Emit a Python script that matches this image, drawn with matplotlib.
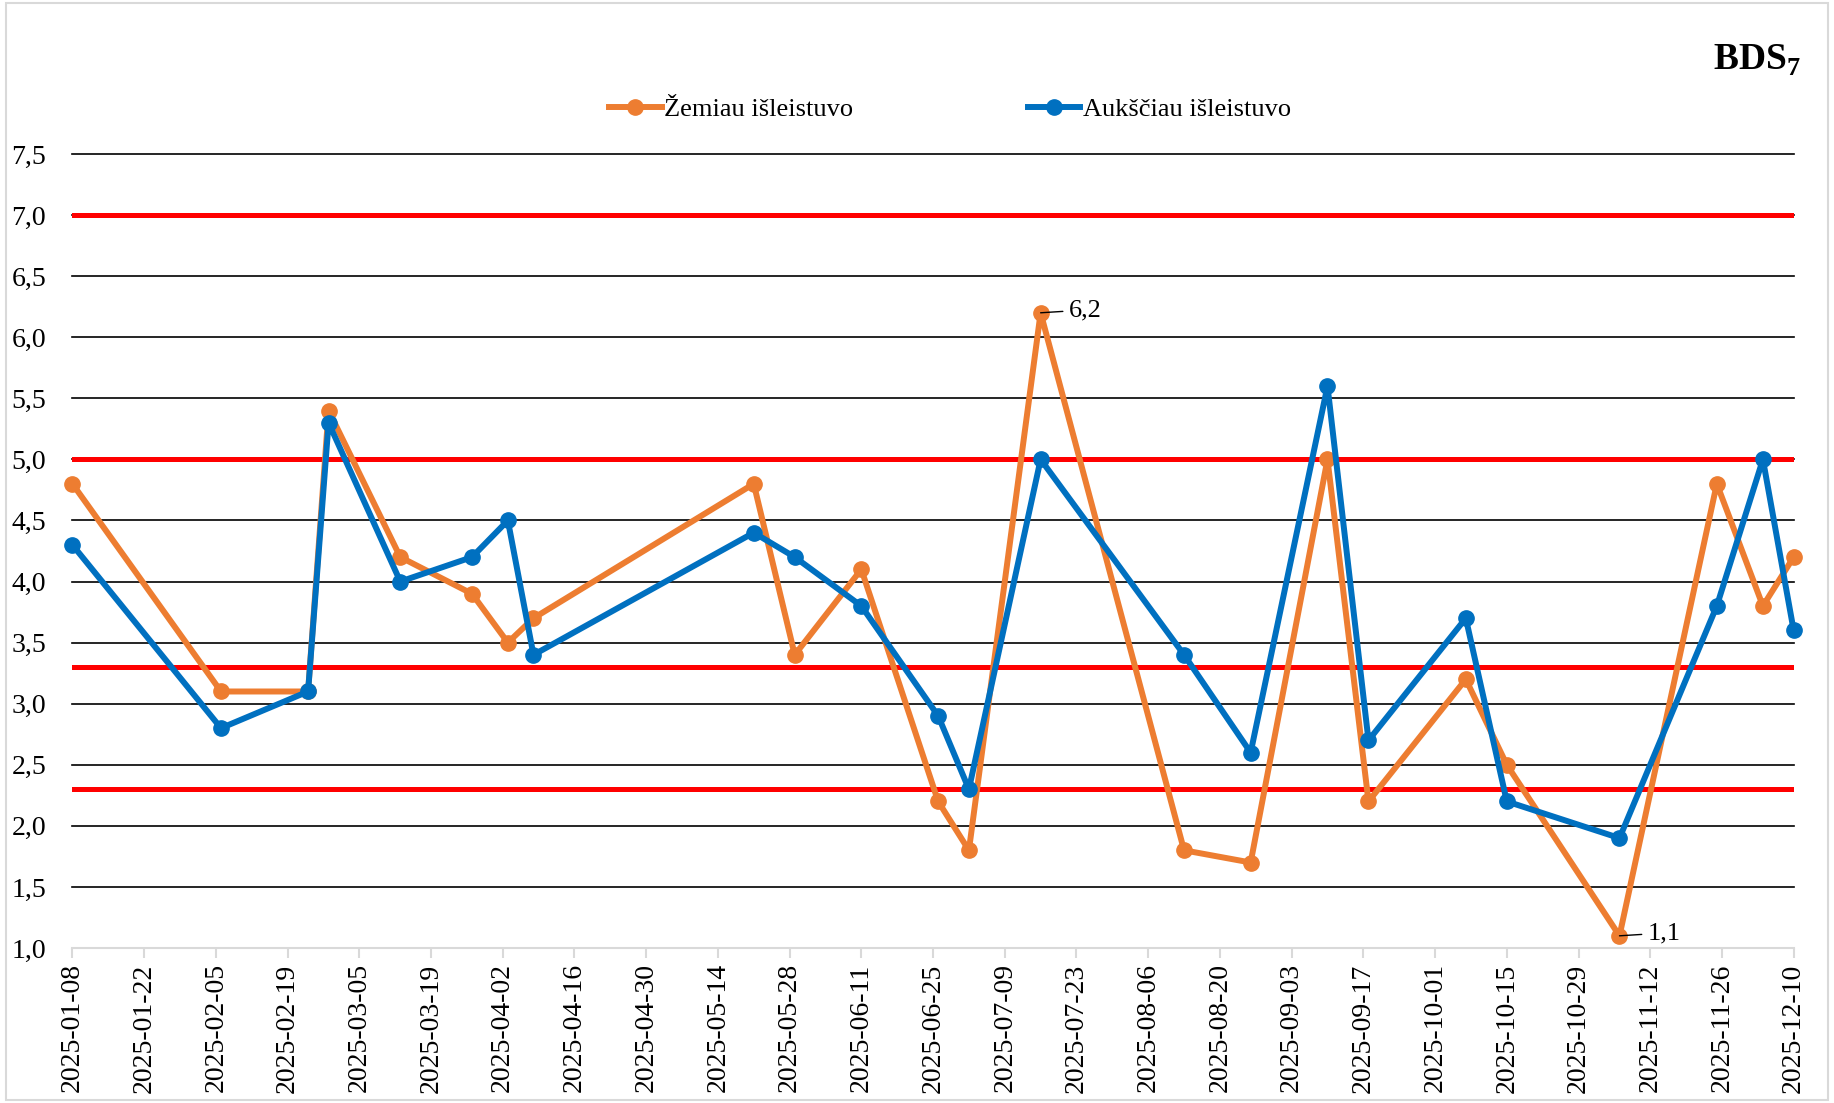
import numpy as np
import pandas as pd
import matplotlib
matplotlib.use("Agg")
import matplotlib.pyplot as plt
from matplotlib.patches import Rectangle

plt.rcParams['font.family'] = ['Liberation Serif', 'DejaVu Serif']
plt.rcParams['mathtext.fontset'] = 'custom'
plt.rcParams['mathtext.rm'] = 'Liberation Serif'
plt.rcParams['mathtext.bf'] = 'Liberation Serif:bold'

# datos
dates = pd.to_datetime([
    "2025-01-08", "2025-02-06", "2025-02-23", "2025-02-27", "2025-03-13",
    "2025-03-27", "2025-04-03", "2025-04-08", "2025-05-21", "2025-05-29",
    "2025-06-11", "2025-06-26", "2025-07-02", "2025-07-16", "2025-08-13",
    "2025-08-26", "2025-09-10", "2025-09-18", "2025-10-07", "2025-10-15",
    "2025-11-06", "2025-11-25", "2025-12-04", "2025-12-10",
])
zemiau = [4.8, 3.1, 3.1, 5.4, 4.2, 3.9, 3.5, 3.7, 4.8, 3.4, 4.1, 2.2,
          1.8, 6.2, 1.8, 1.7, 5.0, 2.2, 3.2, 2.5, 1.1, 4.8, 3.8, 4.2]
aukstiau = [4.3, 2.8, 3.1, 5.3, 4.0, 4.2, 4.5, 3.4, 4.4, 4.2, 3.8, 2.9,
            2.3, 5.0, 3.4, 2.6, 5.6, 2.7, 3.7, 2.2, 1.9, 3.8, 5.0, 3.6]
ribos = [7.0, 5.0, 3.3, 2.3]
tick_dates = pd.date_range("2025-01-08", "2025-12-10", freq="14D")
y_ticks = np.arange(1.0, 7.51, 0.5)

ORANGE = "#ED7D31"
BLUE = "#0070C0"

fig = plt.figure(figsize=(18.34, 11.03), dpi=100)
ax = fig.add_axes([0.0395, 0.1405, 0.9385, 0.7199])

for y in y_ticks[1:]:
    ax.axhline(y, color="black", lw=1.2, zorder=1, clip_on=False)
for r in ribos:
    ax.axhline(r, color="#FF0000", lw=3.6, zorder=2)

ax.plot(dates, zemiau, color=ORANGE, lw=4.3, marker="o", ms=11,
        label="Žemiau išleistuvo", zorder=3, clip_on=False)
ax.plot(dates, aukstiau, color=BLUE, lw=4.3, marker="o", ms=11,
        label="Aukščiau išleistuvo", zorder=4, clip_on=False)

# anotacijos
for d, v in [(dates[13], zemiau[13]), (dates[20], zemiau[20])]:
    ax.annotate(f"{v:.1f}".replace(".", ","), xy=(d, v), xytext=(20, 2),
                textcoords="offset points", fontsize=19, va="center",
                arrowprops=dict(arrowstyle="-", color="black", lw=1,
                                shrinkA=2, shrinkB=0))

ax.set_xlim(tick_dates[0], tick_dates[-1])
ax.set_ylim(1.0, 7.5)
ax.set_xticks(tick_dates)
ax.set_xticklabels([d.strftime("%Y-%m-%d") for d in tick_dates],
                   rotation=90, fontsize=20)
ax.set_yticks(y_ticks)
ax.set_yticklabels([f"{v:.1f}".replace(".", ",") for v in y_ticks], fontsize=20)
ax.tick_params(axis="y", length=0, pad=19)
ax.tick_params(axis="x", length=7, color="#D9D9D9", width=1.5, pad=4)
for s in ["top", "right", "left"]:
    ax.spines[s].set_visible(False)
ax.spines["bottom"].set_color("#D9D9D9")
ax.spines["bottom"].set_linewidth(1.5)

fig.legend(loc="center", bbox_to_anchor=(0.518, 0.901), ncol=2, frameon=False,
           fontsize=19, columnspacing=6.6, handlelength=2.0, handletextpad=0.1)

fig.text(0.982, 0.945, r"$\mathbf{BDS}_\mathbf{7}$", ha="right", va="center",
         fontsize=27)

fig.patches.append(Rectangle((0.003, 0.003), 0.994, 0.994, transform=fig.transFigure,
                             fill=False, edgecolor="#D9D9D9", lw=1.5))

fig.savefig("out.png", dpi=100)
